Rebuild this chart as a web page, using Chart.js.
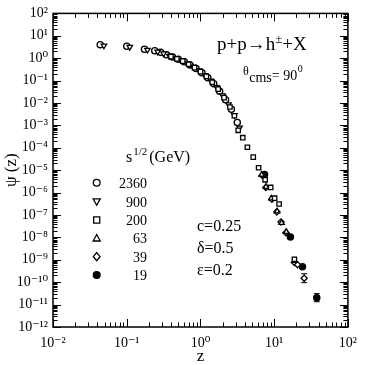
<!DOCTYPE html>
<html><head><meta charset="utf-8">
<script src="https://cdn.jsdelivr.net/npm/chart.js@4.4.0/dist/chart.umd.min.js"></script>
<style>html,body{margin:0;padding:0;background:#fff}</style>
</head><body>
<canvas id="c" width="365" height="365"></canvas>
<script>
// ---- tick labels ----
const xTickValues = [1e-2, 1e-1, 1e0, 1e1, 1e2];
const xTickLabels = ['10\u207B\u00B2', '10\u207B\u00B9', '10\u2070', '10\u00B9', '10\u00B2'];
const yTickValues = [1e2,1e1,1e0,1e-1,1e-2,1e-3,1e-4,1e-5,1e-6,1e-7,1e-8,1e-9,1e-10,1e-11,1e-12];
const yTickLabels = ['10\u00B2','10\u00B9','10\u2070','10\u207B\u00B9','10\u207B\u00B2','10\u207B\u00B3','10\u207B\u2074','10\u207B\u2075','10\u207B\u2076','10\u207B\u2077','10\u207B\u2078','10\u207B\u2079','10\u207B\u00B9\u2070','10\u207B\u00B9\u00B9','10\u207B\u00B9\u00B2'];

// ---- series (sqrt(s) in GeV) ----
const energies = ['2360', '900', '200', '63', '39', '19'];

const z2360   = [0.0437, 0.100, 0.174, 0.240, 0.288, 0.347, 0.417, 0.501, 0.603, 0.724, 0.871, 1.047, 1.259, 1.514, 1.82, 2.19, 2.63, 3.16];
const psi2360 = [3.98, 3.39, 2.51, 2.14, 1.82, 1.41, 1.12, 0.891, 0.692, 0.501, 0.347, 0.224, 0.135, 0.0724, 0.0331, 0.01396, 0.00525, 0.00135];

const z900   = [0.049, 0.110, 0.191, 0.263, 0.316, 0.380, 0.457, 0.550, 0.661, 0.794, 0.955, 1.148, 1.380, 1.660, 1.995, 2.40, 2.88, 3.39];
const psi900 = [3.63, 3.16, 2.34, 1.95, 1.62, 1.26, 1.0, 0.794, 0.589, 0.417, 0.282, 0.174, 0.1, 0.0501, 0.0219, 0.00871, 0.00282, 0.000794];

const z200   = [0.398, 0.479, 0.575, 0.692, 0.832, 1.0, 1.202, 1.445, 1.738, 2.089, 2.512, 2.884, 3.25, 3.75, 4.33, 5.20, 6.15, 7.55, 8.97, 10.14, 11.67, 18.8];
const psi200 = [1.175, 0.933, 0.741, 0.537, 0.380, 0.251, 0.155, 0.0851, 0.0417, 0.0174, 0.00661, 0.00269, 6.03e-4, 2.82e-4, 1.06e-4, 3.83e-5, 1.29e-5, 3.72e-6, 1.70e-6, 5.62e-7, 3.09e-7, 1.05e-9];

const z63   = [6.76, 7.76, 9.12, 10.96, 12.6, 14.6, 19.05];
const psi63 = [6.31e-6, 1.82e-6, 5.50e-7, 1.45e-7, 4.47e-8, 1.78e-8, 8.91e-10];

const z39      = [6.89, 7.71, 9.33, 10.86, 12.39, 14.42, 18.8, 20.75, 25.5];
const psi39    = [5.75e-6, 1.70e-6, 5.01e-7, 1.38e-7, 4.90e-8, 1.62e-8, 7.59e-10, 6.03e-10, 1.51e-10];
const errDec39 = [0.06, 0.06, 0.06, 0.07, 0.07, 0.08, 0.10, 0.10, 0.20];

const z19      = [7.40, 16.6, 24.2, 37.8];
const psi19    = [6.46e-6, 1.05e-8, 4.90e-10, 2.04e-11];
const errDec19 = [0.04, 0.06, 0.08, 0.18];

const paramTexts = ['c=0.25', '\u03B4=0.5', '\u03B5=0.2'];

const SERIF = '"Liberation Serif", "DejaVu Serif", serif';
const pts = (xs, ys) => xs.map((v, i) => ({x: v, y: ys[i]}));

const styles = [
  {style: 'circle',   rot: 0,   fill: '#fff'},
  {style: 'triangle', rot: 180, fill: '#fff'},
  {style: 'rect',     rot: 0,   fill: '#fff'},
  {style: 'triangle', rot: 0,   fill: '#fff'},
  {style: 'rectRot',  rot: 0,   fill: '#fff'},
  {style: 'circle',   rot: 0,   fill: '#000'}
];
const seriesData = [
  {xs: z2360, ys: psi2360},
  {xs: z900, ys: psi900},
  {xs: z200, ys: psi200},
  {xs: z63, ys: psi63},
  {xs: z39, ys: psi39, err: errDec39},
  {xs: z19, ys: psi19, err: errDec19}
];
const order = [2, 3, 4, 1, 0, 5];

const datasets = order.map(k => ({
  label: energies[k],
  data: pts(seriesData[k].xs, seriesData[k].ys),
  errDec: seriesData[k].err || null,
  pointStyle: styles[k].style,
  rotation: styles[k].rot,
  pointRadius: 3.1,
  pointBorderWidth: 1.3,
  borderColor: '#000',
  backgroundColor: styles[k].fill,
  showLine: false
}));

function drawMarker(ctx, k, x, y, r) {
  const s = styles[k];
  ctx.save();
  ctx.lineWidth = 1.3;
  ctx.strokeStyle = '#000';
  ctx.fillStyle = s.fill;
  ctx.beginPath();
  if (s.style === 'circle') {
    ctx.arc(x, y, r, 0, Math.PI * 2);
  } else if (s.style === 'rect') {
    ctx.rect(x - r * 0.9, y - r * 0.9, r * 1.8, r * 1.8);
  } else if (s.style === 'rectRot') {
    ctx.moveTo(x, y - r * 1.2); ctx.lineTo(x + r, y); ctx.lineTo(x, y + r * 1.2); ctx.lineTo(x - r, y); ctx.closePath();
  } else if (s.style === 'triangle') {
    const d = s.rot === 180 ? -1 : 1;
    ctx.moveTo(x, y - d * r * 1.1); ctx.lineTo(x + r * 1.05, y + d * r * 0.8); ctx.lineTo(x - r * 1.05, y + d * r * 0.8); ctx.closePath();
  }
  ctx.fill(); ctx.stroke();
  ctx.restore();
}

const errorBars = {
  id: 'errorBars',
  beforeDatasetsDraw(chart) {
    const {ctx, scales: {x, y}} = chart;
    ctx.save();
    ctx.strokeStyle = '#000'; ctx.lineWidth = 1;
    chart.data.datasets.forEach(ds => {
      if (!ds.errDec) return;
      ds.data.forEach((p, i) => {
        const e = ds.errDec[i];
        const px = x.getPixelForValue(p.x);
        const y1 = y.getPixelForValue(p.y * Math.pow(10, e));
        const y2 = y.getPixelForValue(p.y / Math.pow(10, e));
        ctx.beginPath();
        ctx.moveTo(px, y1); ctx.lineTo(px, y2);
        if (e >= 0.15) {
          ctx.moveTo(px - 3, y1); ctx.lineTo(px + 3, y1);
          ctx.moveTo(px - 3, y2); ctx.lineTo(px + 3, y2);
        }
        ctx.stroke();
      });
    });
    ctx.restore();
  }
};

const frame = {
  id: 'frame',
  afterDraw(chart) {
    const {ctx, chartArea: a, scales: {x, y}} = chart;
    ctx.save();
    ctx.strokeStyle = '#000';
    ctx.lineWidth = 1;
    ctx.beginPath();
    for (let e = -2; e <= 2; e++) {
      for (let m = 1; m <= 9; m++) {
        const v = Number((m * Math.pow(10, e)).toPrecision(3));
        if (v > 100.0001) break;
        const px = Math.round(x.getPixelForValue(v)) + 0.5;
        const L = m === 1 ? 8 : 4.5;
        ctx.moveTo(px, a.bottom); ctx.lineTo(px, a.bottom - L);
        ctx.moveTo(px, a.top); ctx.lineTo(px, a.top + L);
      }
    }
    for (let e = -12; e <= 2; e++) {
      for (let m = 1; m <= 9; m++) {
        const v = Number((m * Math.pow(10, e)).toPrecision(3));
        if (v > 100.0001) break;
        const py = Math.round(y.getPixelForValue(v)) + 0.5;
        const L = m === 1 ? 8 : 4.5;
        ctx.moveTo(a.left, py); ctx.lineTo(a.left + L, py);
        ctx.moveTo(a.right, py); ctx.lineTo(a.right - L, py);
      }
    }
    ctx.stroke();
    ctx.lineWidth = 1.5;
    ctx.strokeRect(a.left, a.top, a.right - a.left, a.bottom - a.top);

    // reaction label
    ctx.fillStyle = '#000';
    ctx.textBaseline = 'alphabetic';
    ctx.textAlign = 'left';
    let cx = 217;
    ctx.font = '19px ' + SERIF;
    ctx.fillText('p+p\u2192h', cx, 50); cx += ctx.measureText('p+p\u2192h').width;
    ctx.font = '13px ' + SERIF;
    ctx.fillText('\u00B1', cx, 43); cx += ctx.measureText('\u00B1').width;
    ctx.font = '19px ' + SERIF;
    ctx.fillText('+X', cx, 50);

    // theta label
    cx = 243;
    ctx.font = '12px ' + SERIF;
    ctx.fillText('\u03B8', cx, 75); cx += ctx.measureText('\u03B8').width + 0.5;
    ctx.font = '14px ' + SERIF;
    ctx.fillText('cms', cx, 82); cx += ctx.measureText('cms').width;
    ctx.fillText('= 90', cx, 80); cx += ctx.measureText('= 90').width + 0.5;
    ctx.font = '10px ' + SERIF;
    ctx.fillText('0', cx, 72);

    // legend
    cx = 126;
    ctx.font = '16px ' + SERIF;
    ctx.fillText('s', cx, 162); cx += ctx.measureText('s').width + 1;
    ctx.font = '11px ' + SERIF;
    ctx.fillText('1/2', cx, 155); cx += ctx.measureText('1/2').width + 2;
    ctx.font = '16px ' + SERIF;
    ctx.fillText('(GeV)', cx, 162);
    const rowY = [182.7, 201.5, 220, 238.3, 256.7, 275];
    ctx.font = '14px ' + SERIF;
    ctx.textAlign = 'right';
    energies.forEach((lab, k) => {
      drawMarker(ctx, k, 96.7, rowY[k], 3.4);
      ctx.fillStyle = '#000';
      ctx.fillText(lab, 147, rowY[k] + 5);
    });

    // parameters
    ctx.textAlign = 'left';
    ctx.font = '16px ' + SERIF;
    const pY = [231, 253, 275];
    paramTexts.forEach((t, i) => ctx.fillText(t, 197, pY[i]));
    ctx.restore();
  }
};

new Chart(document.getElementById('c'), {
  type: 'scatter',
  data: {datasets},
  options: {
    responsive: false,
    animation: false,
    devicePixelRatio: 1,
    layout: {padding: {top: 10, right: 9, left: 0, bottom: 0}},
    plugins: {legend: {display: false}, tooltip: {enabled: false}},
    scales: {
      x: {
        type: 'logarithmic', position: 'bottom', min: 1e-2, max: 1e2,
        grid: {display: false, drawTicks: false}, border: {display: false},
        afterBuildTicks: s => { s.ticks = xTickValues.map(v => ({value: v})); },
        afterFit: s => { s.height = 38; },
        ticks: {
          color: '#000', padding: 8, maxRotation: 0, autoSkip: false,
          font: {family: SERIF, size: 14},
          callback: (v) => { const i = xTickValues.findIndex(t => Math.abs(Math.log10(t) - Math.log10(v)) < 1e-6); return i >= 0 ? xTickLabels[i] : ''; }
        },
        title: {display: true, text: 'z', color: '#000', font: {family: SERIF, size: 17, lineHeight: 1}, padding: 0}
      },
      y: {
        type: 'logarithmic', position: 'left', min: 1e-12, max: 1e2,
        grid: {display: false, drawTicks: false}, border: {display: false},
        afterBuildTicks: s => { s.ticks = yTickValues.map(v => ({value: v})); },
        afterFit: s => { s.width = 53; },
        ticks: {
          color: '#000', padding: 5, autoSkip: false,
          font: {family: SERIF, size: 14},
          callback: (v) => { const i = yTickValues.findIndex(t => Math.abs(Math.log10(t) - Math.log10(v)) < 1e-6); return i >= 0 ? yTickLabels[i] : ''; }
        },
        title: {display: true, text: '\u03C8 (z)', color: '#000', font: {family: SERIF, size: 17, lineHeight: 1}, padding: {top: 3, bottom: 0}}
      }
    }
  },
  plugins: [errorBars, frame]
});
</script>
</body></html>
